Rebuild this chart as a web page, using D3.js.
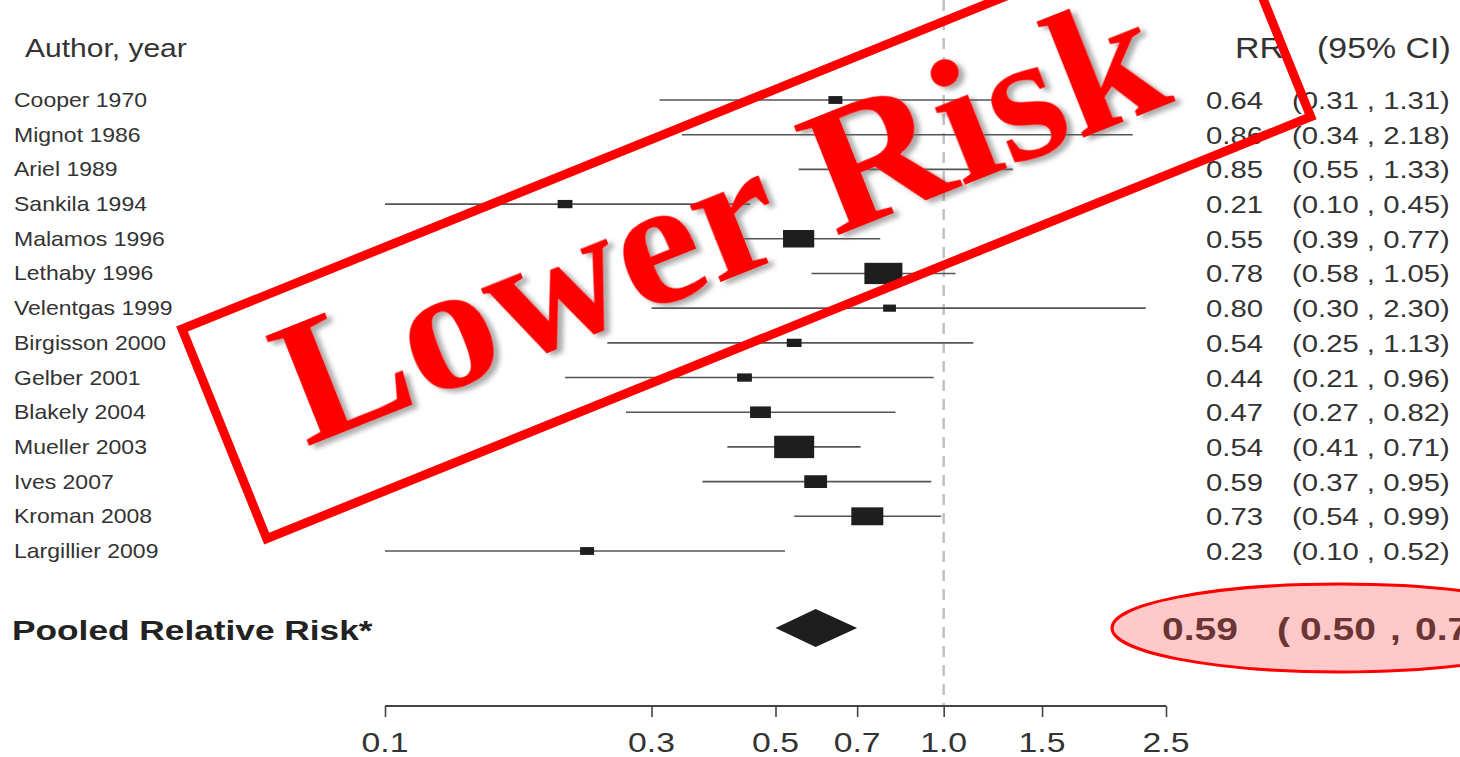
<!DOCTYPE html>
<html>
<head>
<meta charset="utf-8">
<script src="https://cdn.jsdelivr.net/npm/d3@7"></script>
<style>
  html, body { margin: 0; padding: 0; background: #fff; }
  svg { display: block; }
</style>
</head>
<body>
<svg id="chart" width="1460" height="757"></svg>
<script>
// ---------------- data ----------------
const studies = ["Cooper 1970", "Mignot 1986", "Ariel 1989", "Sankila 1994", "Malamos 1996",
  "Lethaby 1996", "Velentgas 1999", "Birgisson 2000", "Gelber 2001", "Blakely 2004",
  "Mueller 2003", "Ives 2007", "Kroman 2008", "Largillier 2009"];
const rr    = [0.64, 0.86, 0.85, 0.21, 0.55, 0.78, 0.80, 0.54, 0.44, 0.47, 0.54, 0.59, 0.73, 0.23];
const lower = [0.31, 0.34, 0.55, 0.10, 0.39, 0.58, 0.30, 0.25, 0.21, 0.27, 0.41, 0.37, 0.54, 0.10];
const upper = [1.31, 2.18, 1.33, 0.45, 0.77, 1.05, 2.30, 1.13, 0.96, 0.82, 0.71, 0.95, 0.99, 0.52];
const weights = [3.5, 3.0, 4.0, 3.7, 7.8, 9.5, 3.2, 3.7, 3.7, 5.2, 10.0, 5.7, 8.0, 3.5];
const pooled = {label: "Pooled Relative Risk*", rr: 0.59, lower: 0.50, upper: 0.70};
const tickValues = [0.1, 0.3, 0.5, 0.7, 1.0, 1.5, 2.5];
const tickLabels = ["0.1", "0.3", "0.5", "0.7", "1.0", "1.5", "2.5"];
const headerLeft = "Author, year";
const headerRR = "RR";
const headerCI = "(95% CI)";
const stampText = "Lower Risk";

// ---------------- layout ----------------
const svg = d3.select("#chart");
const x = d3.scaleLog().domain([0.1, 2.5]).range([385, 1166]);
const y = d3.scaleLinear().domain([0, studies.length - 1]).range([100, 551]);
const pooledY = 628;
const axisY = 706;
const boxW = d3.scaleLinear().domain([0, 10]).range([0, 40]);
const SANS = "'Liberation Sans', Arial, sans-serif";

function stext(g, str, tx, ty, opts) {
  const s = opts.stretch || 1.2;
  return g.append("text")
    .attr("transform", `translate(${tx},${ty}) scale(${s},1)`)
    .attr("x", 0).attr("y", 0)
    .attr("font-family", SANS)
    .attr("font-size", opts.size)
    .attr("font-weight", opts.weight || "normal")
    .attr("fill", opts.fill || "#333")
    .attr("text-anchor", opts.anchor || "start")
    .style("white-space", "pre")
    .text(str);
}

const main = svg.append("g");

// reference (null) line
main.append("line")
  .attr("x1", x(1)).attr("x2", x(1))
  .attr("y1", 0).attr("y2", axisY)
  .attr("stroke", "#c0c0c0").attr("stroke-width", 2.5)
  .attr("stroke-dasharray", "11,8");

// headers
stext(main, headerLeft, 25, 57, {size: 25, stretch: 1.2});
stext(main, headerRR, 1235, 58, {size: 30, stretch: 1.13});
stext(main, headerCI, 1317, 58, {size: 30, stretch: 1.13});

// study rows
const rows = main.selectAll("g.row").data(studies.map((s, i) => ({
  name: s, rr: rr[i], lo: lower[i], hi: upper[i], w: weights[i], i
}))).join("g").attr("class", "row");

rows.append("line")
  .attr("x1", d => x(d.lo)).attr("x2", d => x(d.hi))
  .attr("y1", d => y(d.i)).attr("y2", d => y(d.i))
  .attr("stroke", "#555").attr("stroke-width", 1.6);

rows.append("rect")
  .attr("x", d => x(d.rr) - boxW(d.w) / 2)
  .attr("y", d => y(d.i) - boxW(d.w) * 0.28)
  .attr("width", d => boxW(d.w))
  .attr("height", d => boxW(d.w) * 0.56)
  .attr("fill", "#1e1e1e");

rows.each(function(d) {
  const g = d3.select(this);
  stext(g, d.name, 14, y(d.i) + 7, {size: 20, stretch: 1.15});
  stext(g, d3.format(".2f")(d.rr), 1206, y(d.i) + 9, {size: 24, stretch: 1.22});
  stext(g, `(${d3.format(".2f")(d.lo)} , ${d3.format(".2f")(d.hi)})`, 1292, y(d.i) + 9, {size: 24, stretch: 1.22});
});

// pooled diamond
const dh = 19;
main.append("path")
  .attr("d", `M${x(pooled.lower)},${pooledY} L${x(pooled.rr)},${pooledY - dh} L${x(pooled.upper)},${pooledY} L${x(pooled.rr)},${pooledY + dh} Z`)
  .attr("fill", "#1e1e1e");

stext(main, pooled.label, 12, pooledY + 12, {size: 28, stretch: 1.26, weight: "bold", fill: "#222"});

// pooled values (bold), overlaid by the highlight ellipse; cut at the right edge as in the original
const pv = main.append("g");
const pvOpt = {size: 32, stretch: 1.22, weight: "bold", fill: "#444"};
stext(pv, d3.format(".2f")(pooled.rr), 1162, pooledY + 12, pvOpt);
stext(pv, "(", 1277, pooledY + 12, pvOpt);
stext(pv, d3.format(".2f")(pooled.lower), 1300, pooledY + 12, pvOpt);
stext(pv, ",", 1390, pooledY + 12, pvOpt);
stext(pv, d3.format(".2f")(pooled.upper), 1415, pooledY + 12, pvOpt);

// axis
const axis = d3.axisBottom(x).tickValues(tickValues).tickFormat((d, i) => tickLabels[i])
  .tickSize(11).tickSizeOuter(0);
const ax = main.append("g").attr("transform", `translate(0,${axisY})`).call(axis);
ax.select(".domain").attr("stroke", "#444").attr("stroke-width", 1.8).attr("d", `M${x(0.1)},0H${x(2.5)}`);
ax.selectAll(".tick line").attr("stroke", "#444").attr("stroke-width", 1.6);
ax.selectAll(".tick text").remove();
tickValues.forEach((v, i) => {
  stext(main, tickLabels[i], x(v), 752, {size: 27, stretch: 1.25, anchor: "middle", fill: "#333"});
});

// highlight ellipse
svg.append("ellipse")
  .attr("cx", 1340).attr("cy", pooledY).attr("rx", 228).attr("ry", 44)
  .attr("fill", "rgba(255,0,0,0.21)")
  .attr("stroke", "#ff0000").attr("stroke-width", 3);

// stamp
const defs = svg.append("defs");
const f = defs.append("filter").attr("id", "shadow").attr("x", "-10%").attr("y", "-10%").attr("width", "120%").attr("height", "130%");
f.append("feDropShadow").attr("dx", 4).attr("dy", 5).attr("stdDeviation", 2.5)
  .attr("flood-color", "#666").attr("flood-opacity", 0.55);

const frame = svg.append("g").attr("transform", "translate(746,222) rotate(-22)");
frame.append("rect")
  .attr("x", -563).attr("y", -112).attr("width", 1126).attr("height", 226)
  .attr("fill", "none").attr("stroke", "#ff0000").attr("stroke-width", 9);

svg.append("text")
  .attr("transform", "translate(306,447) rotate(-21.7) scale(1.05,1)")
  .attr("x", 0).attr("y", 0)
  .attr("text-anchor", "start")
  .attr("font-family", "'Liberation Serif', 'Times New Roman', serif")
  .attr("font-weight", "bold")
  .attr("font-size", 180)
  .attr("fill", "#ff0000")
  .attr("filter", "url(#shadow)")
  .text(stampText);
</script>
</body>
</html>
